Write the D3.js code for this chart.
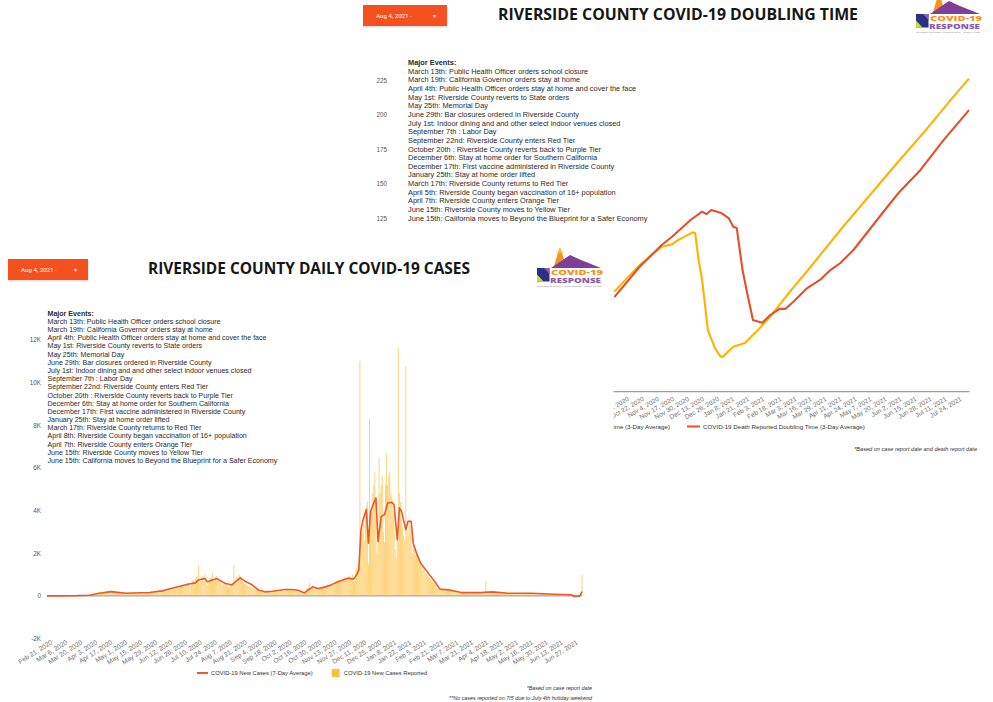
<!DOCTYPE html>
<html>
<head>
<meta charset="utf-8">
<script src="https://cdn.jsdelivr.net/npm/d3@7"></script>
<style>
  html, body { margin: 0; padding: 0; background: #fff; }
  svg { display: block; font-family: "Liberation Sans", Arial, sans-serif; }
</style>
</head>
<body>
<svg id="chart" width="993" height="702"></svg>
<script>
// ---------------- Doubling time (3-day average), days ----------------
const caseDates = ["2020-09-30","2020-10-22","2020-11-10","2020-11-19","2020-11-24","2020-12-07","2020-12-09","2020-12-12","2020-12-15","2020-12-17","2020-12-20","2020-12-26","2020-12-31","2021-01-02","2021-01-11","2021-01-21","2021-01-31","2021-02-12","2021-03-01","2021-03-19","2021-04-16","2021-05-30","2021-06-28","2021-07-18","2021-08-03"];
const caseDoubling = [72,91.3,104.5,106.2,109.3,114.9,114.4,94.9,80.4,66,44.3,31.3,25,25,32.2,34.9,43.1,53.9,72,90,118.9,162.3,190.2,210.5,226];

const deathDates = ["2020-09-30","2020-10-22","2020-11-10","2020-11-19","2020-12-05","2020-12-15","2020-12-19","2020-12-23","2020-12-31","2021-01-07","2021-01-11","2021-01-14","2021-01-19","2021-01-23","2021-01-28","2021-02-05","2021-02-12","2021-02-20","2021-02-25","2021-03-04","2021-03-16","2021-03-28","2021-04-05","2021-04-14","2021-04-25","2021-05-12","2021-05-27","2021-06-04","2021-06-22","2021-07-12","2021-08-03"];
const deathDoubling = [68,90,105.7,111.7,123.8,129.8,128.1,131,129.1,125.2,118.9,118,87.6,71,51.5,49.5,55.1,59.5,59.5,64.7,74.6,81.1,87.6,92.9,102.1,120.2,136.1,144.3,160,181.6,203.3];

const dblTicks = [0,25,50,75,100,125,150,175,200,225];
const dblTickLabels = ["Oct 9, 2020","Oct 22, 2020","Nov 4, 2020","Nov 17, 2020","Nov 30, 2020","Dec 13, 2020","Dec 26, 2020","Jan 8, 2021","Jan 21, 2021","Feb 3, 2021","Feb 18, 2021","Mar 3, 2021","Mar 16, 2021","Mar 29, 2021","Apr 11, 2021","Apr 24, 2021","May 7, 2021","May 20, 2021","Jun 2, 2021","Jun 15, 2021","Jun 28, 2021","Jul 11, 2021","Jul 24, 2021"];

// ---------------- Daily new cases, one value per day from Feb 21, 2020 ----------------
const casesStart = "2020-02-21";
const casesFeb2020 = [0,0,0,0,0,0,0,0,0];
const casesMar2020 = [0,0,0,0,0,0,1,0,2,1,2,3,4,5,6,8,10,12,14,18,20,24,28,32,30,38,45,50,55,60,70];
const casesApr2020 = [60,80,95,110,70,120,140,150,130,160,180,120,100,170,190,210,230,250,180,160,220,240,260,200,150,140,170,180,150,130];
const casesMay2020 = [120,140,100,90,130,150,160,110,95,120,140,150,130,100,90,110,150,160,140,120,100,110,140,170,160,130,150,180,190,160,140];
const casesJun2020 = [180,200,220,170,160,240,250,230,260,280,200,190,300,320,340,360,310,290,380,420,440,400,350,380,460,500,520,480,420,550];
const casesJul2020 = [580,620,540,400,480,700,760,680,820,900,650,1400,560,700,860,920,880,1000,620,500,700,780,840,900,1080,640,720,880,940,820,760];
const casesAug2020 = [700,620,480,560,540,600,520,480,400,500,540,560,620,1400,700,820,900,860,980,940,760,700,640,560,600,520,480,420,460,400,380];
const casesSep2020 = [360,340,320,300,260,240,220,200,180,190,200,210,180,170,220,230,240,200,190,210,250,230,220,200,180,240,260,230,210,200];
const casesOct2020 = [300,320,340,300,280,300,320,300,290,270,250,260,240,230,220,200,120,100,140,180,300,380,420,610,380,460,500,420,360,340,320];
const casesNov2020 = [300,340,380,420,400,450,430,400,480,520,500,560,580,540,520,600,640,700,680,720,760,700,680,740,800,900,860,820,880,960];
const casesDec2020 = [900,800,1000,700,650,1100,1300,1400,1600,11000,2800,3000,3400,2600,3800,4200,4400,1500,8300,3600,4000,4800,5200,5800,4600,2000,3200,6470,4800,5200,5600];
const casesJan2021 = [3000,2500,5200,6670,5200,5600,5800,4800,4600,4000,3800,2200,1800,3000,11600,4800,4400,3600,3200,2800,2600,10770,3000,2800,3400,3300,3000,2000,2400,2200,1900];
const casesFeb2021 = [2100,1900,1700,1600,1500,1400,1200,1300,1100,1000,1050,900,850,800,700,650,600,550,500,420,380,350,320,300,280,300,260,250];
const casesMar2021 = [270,260,290,240,220,200,210,190,180,170,160,150,140,150,160,130,140,150,170,160,150,140,130,150,160,140,130,170,150,140,150];
const casesApr2021 = [160,150,140,170,180,200,680,210,190,180,170,200,190,160,150,140,150,160,130,120,140,130,120,110,130,120,110,140,120,110];
const casesMay2021 = [120,110,130,140,120,100,110,130,120,110,100,140,130,120,110,100,120,130,110,100,120,130,110,100,90,110,120,100,90,100,110];
const casesJun2021 = [100,90,80,90,100,80,70,80,90,70,60,80,90,70,60,50,70,80,60,50,40,60,70,50,40,50,60,-120,30,20];
const casesJul2021 = [30,10,20,0,0,985];

// 7-day average of new cases
const avgDates = ["2020-02-21","2020-03-02","2020-03-20","2020-04-01","2020-04-10","2020-04-21","2020-05-05","2020-05-27","2020-06-08","2020-06-17","2020-07-03","2020-07-09","2020-07-12","2020-07-18","2020-07-20","2020-07-25","2020-07-29","2020-08-06","2020-08-12","2020-08-20","2020-08-24","2020-08-31","2020-09-06","2020-09-12","2020-09-19","2020-10-01","2020-10-08","2020-10-14","2020-10-19","2020-10-24","2020-10-27","2020-11-01","2020-11-07","2020-11-13","2020-11-20","2020-11-29","2020-12-04","2020-12-07","2020-12-09","2020-12-11","2020-12-13","2020-12-16","2020-12-18","2020-12-20","2020-12-23","2020-12-25","2020-12-27","2020-12-30","2021-01-02","2021-01-05","2021-01-09","2021-01-11","2021-01-14","2021-01-16","2021-01-18","2021-01-22","2021-01-24","2021-01-27","2021-01-29","2021-02-01","2021-02-05","2021-02-12","2021-02-18","2021-02-23","2021-03-03","2021-03-15","2021-04-03","2021-04-13","2021-04-28","2021-05-20","2021-06-10","2021-06-26","2021-06-29","2021-07-04","2021-07-06"];
const avgValues = [0,0,10,30,125,200,125,155,235,360,560,610,750,810,660,740,810,580,520,845,700,520,280,190,220,300,300,250,140,330,420,350,410,515,670,830,780,985,1220,3100,3570,4040,2470,3960,4350,4590,2550,3720,3800,4350,4380,4270,2630,4120,3960,3100,3490,3490,2470,2000,1530,1065,670,315,280,155,155,190,125,125,80,50,-30,0,200];

const caseTicks = [-2000,0,2000,4000,6000,8000,10000,12000];
const caseTickLabels = ["Feb 21, 2020","Mar 6, 2020","Mar 20, 2020","Apr 3, 2020","Apr 17, 2020","May 1, 2020","May 15, 2020","May 29, 2020","Jun 12, 2020","Jun 26, 2020","Jul 10, 2020","Jul 24, 2020","Aug 7, 2020","Aug 21, 2020","Sep 4, 2020","Sep 18, 2020","Oct 2, 2020","Oct 16, 2020","Oct 30, 2020","Nov 13, 2020","Nov 27, 2020","Dec 11, 2020","Dec 25, 2020","Jan 8, 2021","Jan 22, 2021","Feb 5, 2021","Feb 21, 2021","Mar 7, 2021","Mar 21, 2021","Apr 4, 2021","Apr 18, 2021","May 2, 2021","May 16, 2021","May 30, 2021","Jun 13, 2021","Jun 27, 2021"];

const majorEventsTop = ["March 13th: Public Health Officer orders school closure","March 19th: California Governor orders stay at home","April 4th: Public Health Officer orders stay at home and cover the face","May 1st: Riverside County reverts to State orders","May 25th: Memorial Day","June 29th: Bar closures ordered in Riverside County","July 1st: Indoor dining and and other select indoor venues closed","September 7th : Labor Day","September 22nd: Riverside County enters Red Tier","October 20th : Riverside County reverts back to Purple Tier","December 6th: Stay at home order for Southern California","December 17th: First vaccine administered in Riverside County","January 25th: Stay at home order lifted","March 17th: Riverside County returns to Red Tier","April 5th: Riverside County began vaccination of 16+ population","April 7th: Riverside County enters Orange Tier","June 15th: Riverside County moves to Yellow Tier","June 15th: California moves to Beyond the Blueprint for a Safer Economy"];
const majorEventsBottom = ["March 13th: Public Health Officer orders school closure","March 19th: California Governor orders stay at home","April 4th: Public Health Officer orders stay at home and cover the face","May 1st: Riverside County reverts to State orders","May 25th: Memorial Day","June 29th: Bar closures ordered in Riverside County","July 1st: Indoor dining and and other select indoor venues closed","September 7th : Labor Day","September 22nd: Riverside County enters Red Tier","October 20th : Riverside County reverts back to Purple Tier","December 6th: Stay at home order for Southern California","December 17th: First vaccine administered in Riverside County","January 25th: Stay at home order lifted","March 17th: Riverside County returns to Red Tier","April 8th: Riverside County began vaccination of 16+ population","April 7th: Riverside County enters Orange Tier","June 15th: Riverside County moves to Yellow Tier","June 15th: California moves to Beyond the Blueprint for a Safer Economy"];

// ---------------- helpers ----------------
const parse = d3.timeParse("%Y-%m-%d");
const parseLabel = d3.timeParse("%b %d, %Y");
const svg = d3.select("#chart");
const ORANGE_BTN = "#f4511e";
const CASE_LINE = "#ffb300";
const DEATH_LINE = "#e4502a";
const AVG_LINE = "#ea5a2b";
const BAR_FILL = "#ffc752";

function dropdown(g, x, y, w, h, label) {
  g.append("rect").attr("x", x + 0.5).attr("y", y + 1.5).attr("width", w).attr("height", h)
    .attr("fill", "#000").attr("opacity", 0.12);
  g.append("rect").attr("x", x).attr("y", y).attr("width", w).attr("height", h).attr("fill", ORANGE_BTN);
  g.append("text").attr("x", x + 13).attr("y", y + h / 2 + 2.2).attr("font-size", 6.2)
    .attr("fill", "#fff").attr("font-family", "Roboto, 'Liberation Sans', sans-serif").text(label + " ·");
  g.append("text").attr("x", x + w - 13).attr("y", y + h / 2 + 2.2).attr("font-size", 5.5)
    .attr("fill", "#fff").attr("text-anchor", "middle").text("▾");
}

function title(g, x, y, len, txt) {
  g.append("text").attr("x", x).attr("y", y).attr("font-size", 16).attr("font-weight", 700)
    .attr("font-family", "'Open Sans', 'Noto Sans', sans-serif").attr("fill", "#161616")
    .attr("textLength", len).attr("lengthAdjust", "spacingAndGlyphs").text(txt);
}

function logo(g, x, y) {
  const l = g.append("g").attr("transform", `translate(${x},${y})`);
  l.append("path").attr("d", "M17,-2 L21,-15 L25,-15 L29,-2 Z").attr("fill", "#f39322");
  l.append("path").attr("d", "M20,-15 L23,-21 L26,-15 Z").attr("fill", "#f6c544");
  l.append("path").attr("d", "M14,0 L33,-13 L44,-8 L64,0 Z").attr("fill", "#7f3f98");
  l.append("rect").attr("x", 0).attr("y", 0).attr("width", 12.5).attr("height", 13.5).attr("fill", "#2c2f86");
  l.append("path").attr("d", "M0,13.5 L0,6.5 L6.5,13.5 Z").attr("fill", "#cbdc3a");
  l.append("path").attr("d", "M12.5,0 L12.5,6 L7,0 Z").attr("fill", "#8f5fb0");
  l.append("text").attr("x", 14).attr("y", 6.6).attr("font-size", 7.2).attr("font-weight", 900)
    .attr("font-family", "'Open Sans', sans-serif").attr("fill", "#f7931e")
    .attr("textLength", 52).attr("lengthAdjust", "spacingAndGlyphs").text("COVID-19");
  l.append("text").attr("x", 13).attr("y", 14.9).attr("font-size", 7.2).attr("font-weight", 900)
    .attr("font-family", "'Open Sans', sans-serif").attr("fill", "#8e5aa7")
    .attr("textLength", 51).attr("lengthAdjust", "spacingAndGlyphs").text("RESPONSE");
  l.append("text").attr("x", 0).attr("y", 18.6).attr("font-size", 2.4).attr("fill", "#8a8a8a")
    .attr("textLength", 64).attr("lengthAdjust", "spacingAndGlyphs")
    .text("Riverside University Health System · Public Health");
}

function events(g, x, y0, step, lines, targetWidth) {
  const t = g.append("g").attr("fill", "#2a2a2a");
  t.append("text").attr("x", x).attr("y", y0).attr("font-weight", 700).text("Major Events:");
  lines.forEach((s, i) => {
    t.append("text").attr("x", x).attr("y", y0 + step * (i + 1)).text(s);
  });
  // size the block so its longest line spans the target width
  t.selectAll("text").attr("font-size", 10);
  const widest = d3.max(t.selectAll("text").nodes(), n => n.getComputedTextLength());
  t.selectAll("text").attr("font-size", 10 * targetWidth / widest);
}

function styleAxisText(sel, size, color) {
  sel.attr("font-family", null).attr("font-size", null);
  sel.selectAll("text").attr("font-size", size).attr("fill", color)
    .attr("font-family", "'Liberation Sans', Arial, sans-serif");
}

// =============== Doubling time panel (behind) ===============
const dbl = svg.append("g");
const dblX = d3.scaleTime().domain([parse("2020-04-01"), parse("2021-08-03")]).range([404, 969]);
const dblY = d3.scaleLinear().domain([0, 250]).range([391.2, 45.5]);

dropdown(dbl, 363, 5, 84, 21, "Aug 4, 2021");
title(dbl, 498, 19.5, 360, "RIVERSIDE COUNTY COVID-19 DOUBLING TIME");
logo(dbl, 916, 14);

const dblYAxis = dbl.append("g").attr("transform", "translate(390,0)")
  .call(d3.axisLeft(dblY).tickValues(dblTicks).tickSize(0).tickPadding(3));
dblYAxis.select(".domain").remove();
styleAxisText(dblYAxis, 6.3, "#555");

events(dbl, 408, 65, 8.65, majorEventsTop, 240);

const dblXAxis = dbl.append("g").attr("transform", `translate(0,${dblY(0)})`)
  .call(d3.axisBottom(dblX).tickValues(dblTickLabels.map(parseLabel))
    .tickFormat((d, i) => dblTickLabels[i]).tickSize(0));
dblXAxis.select(".domain").attr("stroke", "#9e9e9e").attr("stroke-width", 1.2);
styleAxisText(dblXAxis, 6.5, "#6f6f6f");
dblXAxis.selectAll(".tick text").attr("text-anchor", "end").attr("y", 0).attr("dy", "0.71em")
  .attr("transform", "translate(2,5) rotate(-30)");

const dblLine = d3.line().x(d => dblX(d[0])).y(d => dblY(d[1]));
dbl.append("path").datum(caseDates.map((d, i) => [parse(d), caseDoubling[i]]))
  .attr("d", dblLine).attr("fill", "none").attr("stroke", CASE_LINE).attr("stroke-width", 2.1)
  .attr("stroke-linejoin", "round");
dbl.append("path").datum(deathDates.map((d, i) => [parse(d), deathDoubling[i]]))
  .attr("d", dblLine).attr("fill", "none").attr("stroke", DEATH_LINE).attr("stroke-width", 2.1)
  .attr("stroke-linejoin", "round");

// legend
const dblLeg = dbl.append("g").attr("font-size", 6.2).attr("fill", "#333");
const leg1 = dblLeg.append("text").attr("x", 670).attr("y", 428.5).attr("text-anchor", "end")
  .text("COVID-19 Case Reported Doubling Time (3-Day Average)");
const leg1w = leg1.node().getComputedTextLength();
dblLeg.append("line").attr("x1", 670 - leg1w - 17).attr("x2", 670 - leg1w - 4)
  .attr("y1", 426.5).attr("y2", 426.5).attr("stroke", CASE_LINE).attr("stroke-width", 2);
dblLeg.append("line").attr("x1", 687).attr("x2", 700).attr("y1", 426.5).attr("y2", 426.5)
  .attr("stroke", DEATH_LINE).attr("stroke-width", 2);
dblLeg.append("text").attr("x", 703).attr("y", 428.5).text("COVID-19 Death Reported Doubling Time (3-Day Average)");

dbl.append("text").attr("x", 977).attr("y", 451).attr("text-anchor", "end").attr("font-size", 5.6)
  .attr("font-style", "italic").attr("fill", "#333").text("*Based on case report date and death report date");

// =============== Daily cases panel (front) ===============
const cp = svg.append("g");
cp.append("rect").attr("x", 0).attr("y", 246).attr("width", 613.5).attr("height", 456).attr("fill", "#fff");

dropdown(cp, 8, 259, 80, 21, "Aug 4, 2021");
title(cp, 148, 274, 322, "RIVERSIDE COUNTY DAILY COVID-19 CASES");
logo(cp, 537, 268);

const dailyCases = [].concat(casesFeb2020, casesMar2020, casesApr2020, casesMay2020, casesJun2020,
  casesJul2020, casesAug2020, casesSep2020, casesOct2020, casesNov2020, casesDec2020,
  casesJan2021, casesFeb2021, casesMar2021, casesApr2021, casesMay2021, casesJun2021, casesJul2021);
const day0 = parse(casesStart);
const dailyRows = dailyCases.map((v, i) => ({ date: d3.timeDay.offset(day0, i), value: v }));

const cx = d3.scaleTime().domain([day0, dailyRows[dailyRows.length - 1].date]).range([47, 582]);
const cy = d3.scaleLinear().domain([-2000, 12000]).range([638.6, 339.6]);

const cYAxis = cp.append("g").attr("transform", "translate(44,0)")
  .call(d3.axisLeft(cy).tickValues(caseTicks).tickSize(0).tickPadding(3)
    .tickFormat(d => d === 0 ? "0" : (d / 1000) + "K"));
cYAxis.select(".domain").remove();
styleAxisText(cYAxis, 6.3, "#555");

events(cp, 47.5, 315.6, 8.19, majorEventsBottom, 230);

const barW = 0.95;
cp.append("g").selectAll("rect").data(dailyRows).join("rect")
  .attr("x", d => cx(d.date) - barW / 2)
  .attr("y", d => cy(Math.max(0, d.value)))
  .attr("width", barW)
  .attr("height", d => Math.abs(cy(d.value) - cy(0)))
  .attr("fill", BAR_FILL).attr("opacity", 0.8);

cp.append("line").attr("x1", cx.range()[0]).attr("x2", cx.range()[1])
  .attr("y1", cy(0)).attr("y2", cy(0)).attr("stroke", "#a8a8a8").attr("stroke-width", 1.2);

cp.append("path").datum(avgDates.map((d, i) => [parse(d), avgValues[i]]))
  .attr("d", d3.line().x(d => cx(d[0])).y(d => cy(d[1])))
  .attr("fill", "none").attr("stroke", AVG_LINE).attr("stroke-width", 1.6).attr("stroke-linejoin", "round");

const cXAxis = cp.append("g").attr("transform", `translate(0,${cy(-2000)})`)
  .call(d3.axisBottom(cx).tickValues(caseTickLabels.map(parseLabel))
    .tickFormat((d, i) => caseTickLabels[i]).tickSize(0));
cXAxis.select(".domain").remove();
styleAxisText(cXAxis, 6.6, "#6f6f6f");
cXAxis.selectAll(".tick text").attr("text-anchor", "end").attr("y", 0).attr("dy", "0.71em")
  .attr("transform", "translate(3,1) rotate(-32)");

const cLeg = cp.append("g").attr("font-size", 5.8).attr("fill", "#333");
cLeg.append("line").attr("x1", 197).attr("x2", 208).attr("y1", 673).attr("y2", 673)
  .attr("stroke", AVG_LINE).attr("stroke-width", 2);
const cl1 = cLeg.append("text").attr("x", 211).attr("y", 675).text("COVID-19 New Cases (7-Day Average)");
const cl1end = 211 + cl1.node().getComputedTextLength();
cLeg.append("rect").attr("x", cl1end + 19).attr("y", 669).attr("width", 8).attr("height", 8).attr("fill", "#ffc233");
cLeg.append("text").attr("x", cl1end + 31).attr("y", 675).text("COVID-19 New Cases Reported");

cp.append("text").attr("x", 592).attr("y", 690).attr("text-anchor", "end").attr("font-size", 5.4)
  .attr("font-style", "italic").attr("fill", "#333").text("*Based on case report date");
cp.append("text").attr("x", 592).attr("y", 700).attr("text-anchor", "end").attr("font-size", 5.4)
  .attr("font-style", "italic").attr("fill", "#333").text("**No cases reported on 7/5 due to  July 4th holiday weekend");
</script>
</body>
</html>
